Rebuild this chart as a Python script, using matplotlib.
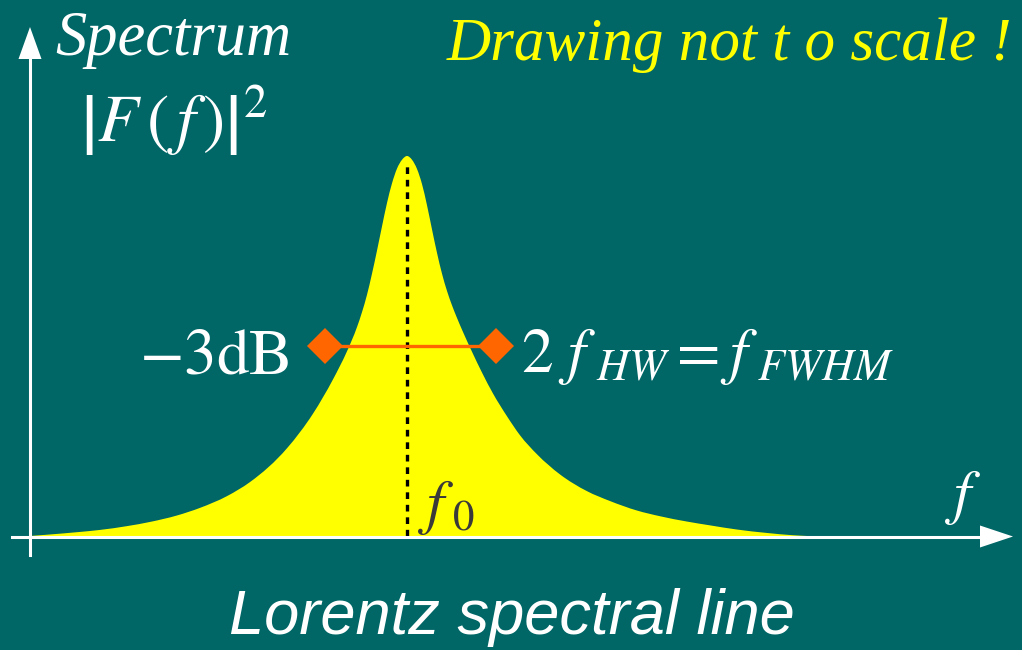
import matplotlib
matplotlib.use("Agg")
import matplotlib.pyplot as plt
from matplotlib.patches import Polygon, PathPatch
from matplotlib.path import Path

# ---- data (frequency offset from f0 in half-width units, normalized spectrum) ----
freq_left = [-6.081, -5.758, -5.323, -4.952, -4.516, -4.145, -3.710, -3.339, -2.903,
             -2.532, -1.935, -1.516, -1.194, -0.968, -0.806, -0.726, -0.645, -0.565,
             -0.484, -0.403, -0.323, -0.242, -0.161, -0.081, 0.0]
spec_left = [0.0, 0.004, 0.010, 0.016, 0.026, 0.037, 0.054, 0.074, 0.105,
             0.142, 0.231, 0.322, 0.412, 0.486, 0.550, 0.589, 0.635, 0.690,
             0.751, 0.815, 0.876, 0.928, 0.967, 0.990, 1.0]
freq_right = [0.081, 0.161, 0.242, 0.323, 0.403, 0.484, 0.565, 0.645, 0.726, 0.806,
              0.903, 1.048, 1.210, 1.387, 1.613, 1.823, 2.097, 2.468, 2.903, 3.274,
              3.710, 4.081, 4.516, 4.887, 5.323, 5.806, 6.226, 6.452]
spec_right = [0.990, 0.966, 0.926, 0.870, 0.807, 0.745, 0.690, 0.645, 0.607, 0.574,
              0.537, 0.485, 0.430, 0.375, 0.315, 0.265, 0.215, 0.162, 0.118, 0.092,
              0.067, 0.052, 0.038, 0.028, 0.017, 0.008, 0.002, 0.0]
f0 = 0.0
peak_top = 0.985
half_level = 0.5
half_points = [-1.33, 1.435]

BG = "#006666"
YELLOW = "#FFFF00"
ORANGE = "#FF6600"

plt.rcParams["mathtext.fontset"] = "stix"

W, H = 1022, 650
fig = plt.figure(figsize=(W / 100, H / 100), dpi=100, facecolor=BG)
ax = fig.add_axes([0, 0, 1, 1])
ax.set_facecolor(BG)
ax.set_xlim(-407 / 62, (W - 407) / 62)
ax.set_ylim(-114 / 380, 536 / 380)
ax.axis("off")


def P(x, y):
    return (x / W, 1 - y / H)


# smooth outline: cubic Hermite segments (drawn as Bezier curves) through the read points
xs = freq_left + freq_right
ys = spec_left + spec_right
n = len(xs)
h = [xs[i + 1] - xs[i] for i in range(n - 1)]
s = [(ys[i + 1] - ys[i]) / h[i] for i in range(n - 1)]
m = [s[0]] + [(s[i] * h[i - 1] + s[i - 1] * h[i]) / (h[i - 1] + h[i])
              for i in range(1, n - 1)] + [s[-1]]
verts = [(xs[0], ys[0])]
codes = [Path.MOVETO]
for i in range(n - 1):
    verts += [(xs[i] + h[i] / 3, ys[i] + m[i] * h[i] / 3),
              (xs[i + 1] - h[i] / 3, ys[i + 1] - m[i + 1] * h[i] / 3),
              (xs[i + 1], ys[i + 1])]
    codes += [Path.CURVE4] * 3
verts += [(xs[-1], -0.006), (xs[0], -0.006), (xs[0], ys[0])]
codes += [Path.LINETO, Path.LINETO, Path.CLOSEPOLY]
ax.add_patch(PathPatch(Path(verts, codes), facecolor=YELLOW, edgecolor="none", zorder=2))

# axes arrows (decoration)
lw_axis = 2.2
fig.add_artist(plt.Line2D([12 / W, 985 / W], [1 - 536.5 / H] * 2, color="white",
                          lw=lw_axis, transform=fig.transFigure, zorder=5))
fig.add_artist(Polygon([P(980, 525.5), P(1013, 536.5), P(980, 547.5)], closed=True,
                       facecolor="white", edgecolor="none", transform=fig.transFigure, zorder=5))
fig.add_artist(plt.Line2D([30 / W] * 2, [1 - 555 / H, 1 - 55 / H], color="white",
                          lw=lw_axis, transform=fig.transFigure, zorder=5))
fig.add_artist(Polygon([P(18.5, 59), P(30, 27), P(41.5, 59)], closed=True,
                       facecolor="white", edgecolor="none", transform=fig.transFigure, zorder=5))

# dashed center line
ax.plot([f0, f0], [0, peak_top], color="black", lw=2.4,
        linestyle=(0, (2.0, 1.75)), zorder=4, dash_capstyle="butt")

# -3 dB marker line
ax.plot(half_points, [half_level] * 2, color=ORANGE, lw=2.4, marker="D",
        markersize=18.5, markeredgewidth=0, zorder=6)

# texts
serif = "Liberation Serif"
fig.text(*P(55, 55), "Spectrum", family=serif, style="italic", fontsize=45,
         color="white", ha="left", va="baseline")
fig.text(*P(80, 142), r"$\left|F\,\left(\,f\,\right)\right|^2$", fontsize=48,
         color="white", ha="left", va="baseline")
fig.text(*P(1012, 60), "Drawing not t o scale !", family=serif, style="italic",
         fontsize=44, color=YELLOW, ha="right", va="baseline")
fig.text(*P(290, 373), r"$-3\mathrm{dB}$", fontsize=47, color="white",
         ha="right", va="baseline")
fig.text(*P(521, 372), r"$2\ f_{\ HW} = f_{\ FWHM}$", fontsize=45.5, color="white",
         ha="left", va="baseline")
fig.text(*P(418, 522), r"$f_{\;0}$", fontsize=44, color="#3a3a3a",
         ha="left", va="baseline")
fig.text(*P(945, 512), r"$f$", fontsize=44, color="white", ha="left", va="baseline")
fig.text(*P(512, 634), "Lorentz spectral line", family="Liberation Sans", style="italic",
         fontsize=45.5, color="white", ha="center", va="baseline")

fig.savefig("out.png", dpi=100, facecolor=BG)
